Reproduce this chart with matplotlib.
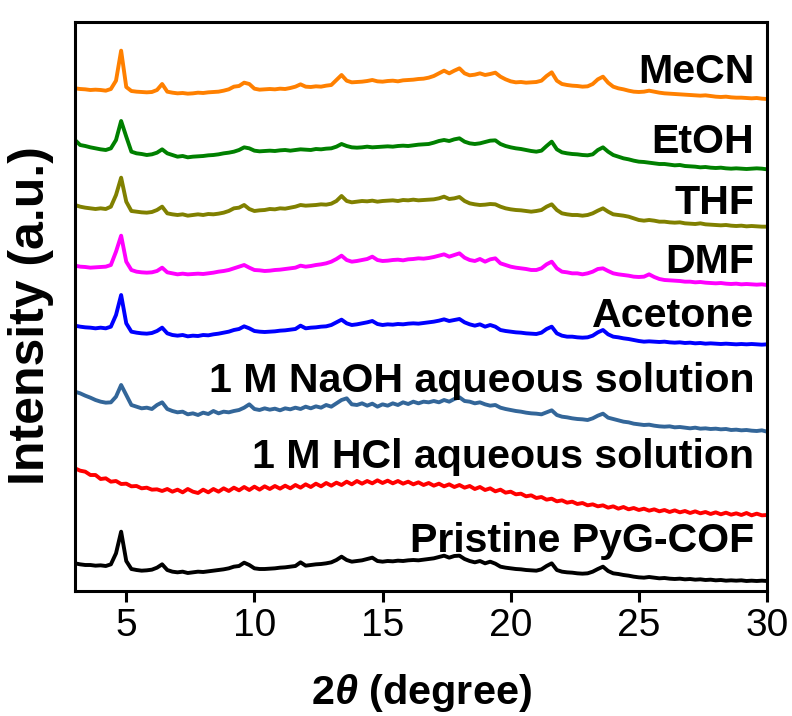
import numpy as np
import matplotlib
matplotlib.use('Agg')
import matplotlib.pyplot as plt

plt.rcParams['font.family'] = ['Liberation Sans', 'DejaVu Sans']
plt.rcParams['mathtext.fontset'] = 'custom'
plt.rcParams['mathtext.rm'] = 'Liberation Sans'
plt.rcParams['mathtext.bf'] = 'Liberation Sans:bold'
plt.rcParams['mathtext.it'] = 'Liberation Sans:italic'
plt.rcParams['mathtext.bfit'] = 'Liberation Sans:bold:italic'

# 2theta sampling (degree), 0.2 step from 3 to 30
two_theta = np.round(np.arange(3.0, 30.001, 0.2), 1)

# intensities (a.u.), each pattern relative to its value at 30 deg
mecn = [32, 30, 29, 27, 28, 27, 25, 30, 55, 145,
        36, 24, 22, 21, 20, 21, 27, 45, 22, 19,
        17, 18, 16, 17, 19, 18, 20, 21, 22, 25,
        29, 37, 39, 49, 45, 31, 28, 29, 30, 29,
        31, 30, 33, 37, 44, 37, 36, 38, 37, 40,
        42, 57, 72, 55, 50, 51, 52, 54, 57, 53,
        52, 54, 55, 53, 56, 57, 58, 60, 61, 64,
        69, 77, 85, 77, 85, 92, 77, 71, 73, 77,
        72, 75, 79, 67, 59, 53, 50, 51, 49, 50,
        51, 55, 69, 80, 55, 45, 42, 40, 39, 37,
        38, 45, 59, 67, 49, 37, 32, 29, 25, 22,
        21, 22, 25, 22, 19, 17, 16, 15, 14, 13,
        12, 11, 10, 11, 9, 7, 6, 7, 5, 4,
        4, 3, 2, 3, 1, 0]
etoh = [88, 73, 70, 66, 63, 60, 58, 63, 88, 145,
        98, 53, 48, 46, 43, 45, 50, 60, 48, 43,
        38, 40, 36, 38, 39, 40, 42, 43, 45, 48,
        50, 53, 58, 66, 63, 56, 54, 55, 56, 55,
        57, 58, 56, 58, 60, 59, 58, 61, 60, 62,
        63, 68, 76, 70, 66, 65, 66, 68, 66, 67,
        68, 69, 68, 70, 71, 70, 72, 74, 75, 76,
        80, 85, 88, 85, 90, 93, 83, 78, 76, 78,
        82, 86, 87, 76, 70, 66, 63, 61, 58, 55,
        53, 56, 70, 83, 60, 51, 48, 46, 45, 43,
        42, 45, 58, 66, 53, 43, 38, 33, 30, 26,
        23, 22, 20, 18, 16, 16, 14, 12, 13, 10,
        9, 8, 6, 7, 5, 4, 5, 3, 2, 3,
        2, 1, 2, 3, 2, 0]
thf = [65, 60, 57, 55, 53, 55, 53, 60, 95, 147,
       75, 47, 45, 43, 42, 44, 50, 60, 40, 37,
       35, 37, 33, 35, 37, 35, 38, 37, 39, 42,
       47, 55, 57, 65, 53, 47, 49, 50, 53, 52,
       55, 54, 57, 60, 65, 63, 64, 65, 67, 66,
       69, 77, 92, 77, 73, 75, 77, 76, 78, 75,
       77, 78, 79, 77, 80, 79, 81, 79, 80, 81,
       82, 85, 90, 83, 85, 89, 77, 70, 67, 65,
       66, 68, 67, 60, 55, 52, 50, 49, 47, 45,
       47, 50, 60, 67, 50, 40, 37, 35, 35, 33,
       35, 40, 48, 55, 45, 37, 35, 33, 30, 25,
       20, 18, 20, 18, 15, 15, 13, 12, 13, 10,
       9, 8, 10, 7, 6, 5, 4, 5, 3, 2,
       3, 1, 2, 1, 0, 0]
dmf = [58, 55, 54, 52, 53, 54, 55, 60, 100, 148,
       70, 45, 40, 38, 37, 38, 42, 52, 38, 35,
       32, 34, 32, 33, 34, 33, 35, 37, 40, 42,
       45, 50, 55, 60, 52, 45, 44, 42, 43, 45,
       46, 48, 50, 52, 58, 55, 57, 60, 62, 65,
       70, 78, 88, 75, 70, 72, 75, 78, 85, 75,
       72, 73, 75, 76, 74, 77, 78, 80, 79, 81,
       84, 88, 92, 85, 90, 95, 82, 75, 72, 78,
       70, 77, 80, 65, 60, 55, 52, 50, 48, 45,
       45, 50, 62, 70, 50, 40, 38, 35, 35, 32,
       35, 40, 48, 50, 42, 35, 32, 30, 28, 25,
       24, 25, 32, 24, 18, 15, 14, 13, 12, 10,
       10, 8, 9, 7, 6, 5, 6, 4, 3, 4,
       2, 3, 2, 1, 2, 0]
acetone = [56, 53, 51, 50, 48, 50, 48, 53, 88, 148,
           63, 38, 35, 33, 32, 34, 40, 50, 33, 28,
           26, 28, 24, 26, 25, 28, 27, 30, 32, 35,
           38, 43, 46, 54, 48, 40, 38, 37, 38, 39,
           41, 42, 44, 46, 56, 48, 50, 51, 53, 54,
           58, 66, 74, 63, 58, 60, 63, 66, 70, 61,
           58, 60, 59, 61, 60, 62, 63, 62, 64, 66,
           68, 71, 75, 70, 73, 76, 66, 60, 56, 60,
           53, 58, 53, 43, 40, 38, 36, 35, 33, 32,
           31, 35, 46, 53, 33, 26, 23, 23, 21, 20,
           21, 26, 36, 43, 30, 23, 21, 18, 16, 13,
           10, 8, 9, 8, 7, 8, 6, 5, 6, 4,
           5, 3, 4, 2, 3, 2, 1, 2, 1, 0,
           1, 0, 1, 0, -1, 0]
naoh = [120, 115, 108, 102, 95, 90, 87, 88, 105, 140,
        110, 80, 75, 70, 72, 68, 80, 88, 68, 62,
        58, 60, 52, 55, 50, 57, 53, 62, 55, 60,
        58, 62, 65, 72, 82, 68, 65, 70, 66, 69,
        64, 70, 67, 72, 68, 75, 70, 76, 72, 80,
        75, 85, 95, 100, 82, 80, 85, 78, 84, 75,
        82, 78, 85, 80, 88, 83, 90, 85, 90, 88,
        92, 88, 95, 90, 98, 103, 92, 90, 85, 88,
        82, 78, 80, 72, 68, 65, 62, 60, 57, 55,
        54, 52, 58, 64, 50, 45, 43, 40, 38, 37,
        35, 40, 48, 54, 42, 38, 34, 30, 28, 24,
        22, 20, 21, 18, 16, 15, 16, 13, 14, 12,
        10, 12, 9, 10, 8, 9, 7, 8, 5, 6,
        4, 5, 3, 2, 4, 0]
hcl = [140, 133, 130, 120, 120, 108, 110, 100, 102, 93,
       94, 86, 87, 80, 82, 76, 77, 72, 78, 70,
       76, 68, 78, 70, 66, 76, 68, 78, 70, 80,
       72, 82, 74, 84, 75, 85, 76, 86, 78, 87,
       79, 88, 80, 90, 82, 92, 84, 94, 86, 96,
       88, 97, 90, 100, 92, 102, 94, 102, 95, 104,
       96, 103, 95, 102, 94, 100, 92, 98, 90, 96,
       88, 94, 86, 92, 84, 90, 82, 87, 78, 84,
       75, 80, 71, 76, 67, 70, 62, 64, 56, 59,
       51, 54, 46, 49, 41, 44, 37, 40, 33, 36,
       29, 32, 26, 29, 22, 26, 19, 24, 17, 21,
       15, 19, 13, 17, 11, 15, 9, 14, 8, 12,
       6, 11, 5, 9, 3, 8, 2, 7, 1, 5,
       0, 6, -1, 4, -1, 0]
pristine = [53, 50, 48, 48, 46, 47, 45, 50, 83, 148,
            60, 36, 33, 31, 32, 34, 40, 50, 33, 28,
            26, 28, 24, 26, 28, 27, 29, 31, 33, 35,
            38, 43, 45, 55, 48, 38, 36, 36, 37, 38,
            40, 41, 43, 45, 56, 46, 48, 50, 51, 53,
            56, 63, 73, 63, 58, 60, 62, 66, 70, 60,
            58, 60, 59, 61, 60, 62, 63, 62, 64, 66,
            68, 72, 76, 70, 75, 76, 66, 60, 56, 60,
            53, 58, 52, 43, 40, 38, 36, 35, 33, 32,
            31, 35, 45, 53, 33, 28, 26, 25, 23, 22,
            23, 28, 36, 43, 30, 23, 21, 18, 16, 13,
            11, 10, 12, 10, 8, 9, 7, 6, 7, 5,
            6, 4, 5, 3, 4, 2, 3, 1, 2, 1,
            2, 0, 1, 0, 1, 0]

names = ['MeCN', 'EtOH', 'THF', 'DMF', 'Acetone',
         '1 M NaOH aqueous solution', '1 M HCl aqueous solution',
         'Pristine PyG-COF']
patterns = [mecn, etoh, thf, dmf, acetone, naoh, hcl, pristine]

# vertical stacking offsets and label placement
offsets = [1476, 1265, 1093, 918, 740, 478, 228, 30]
label_y = [1523, 1313, 1131, 953, 791, 598, 369, 117]
colors = ['#FF8000', '#008000', '#808000', '#FF00FF', '#0000FF',
          '#336699', '#FF0000', '#000000']

fig = plt.figure(figsize=(7.92, 7.16), dpi=100)
ax = fig.add_axes([75 / 792, 125 / 716, 692 / 792, 569 / 716])

for pat, off, col in zip(patterns, offsets, colors):
    assert len(pat) == len(two_theta)
    ax.plot(two_theta, np.array(pat) + off, color=col, lw=2.8)

for name, ly in zip(names, label_y):
    ax.text(29.5, ly, name, ha='right', va='baseline',
            fontsize=29.6, fontweight='bold')

ax.set_xlim(3, 30)
ax.set_ylim(0, 1707)
ax.set_xticks([5, 10, 15, 20, 25, 30])
ax.set_yticks([])
ax.tick_params(axis='x', direction='out', length=8, width=2.2,
               labelsize=28, pad=4)
for sp in ax.spines.values():
    sp.set_linewidth(2.2)

fig.text(421 / 792, 1 - 693 / 716, r'2$\mathbfit{\theta}$ (degree)',
         ha='center', va='center', fontsize=29.8, fontweight='bold')
fig.text(31 / 792, 1 - 316 / 716, 'Intensity (a.u.)', rotation=90,
         ha='center', va='center', fontsize=36, fontweight='bold')

fig.savefig('out.png', dpi=100)
